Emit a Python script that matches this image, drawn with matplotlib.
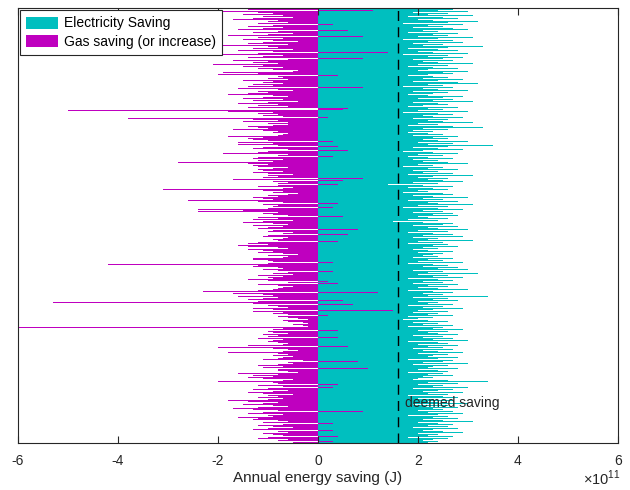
import numpy as np
import matplotlib
matplotlib.use("Agg")
import matplotlib.pyplot as plt

plt.rcParams["font.family"] = ["Liberation Sans", "DejaVu Sans"]
plt.rcParams["mathtext.fontset"] = "custom"
plt.rcParams["mathtext.rm"] = "Liberation Sans"

# Annual savings per dwelling, listed top row first, in units of 1e10 J
electricity_saving = [
    21, 27, 24, 30, 19, 26, 22, 31, 18, 25, 28, 20, 23, 32, 26, 17, 29, 22, 25, 19,
    27, 30, 21, 24, 18, 28, 23, 26, 20, 31, 24, 17, 27, 22, 29, 19, 25, 21, 33, 26,
    18, 24, 28, 20, 23, 30, 17, 26, 22, 29, 25, 19, 27, 21, 24, 31, 20, 26, 18, 23,
    28, 22,
    20, 30, 25, 27, 22, 18, 23, 26, 21, 29, 24, 19, 28, 32, 22, 25, 17, 27, 21, 24,
    30, 19, 26, 23, 18, 22, 29, 25, 20, 27, 23, 31, 19, 24, 26, 21, 18, 28, 22, 25,
    20, 30, 17, 24, 27, 21, 23, 29, 19, 26, 22, 25, 31, 20, 24, 18, 27, 33, 21, 26,
    19, 23,
    18, 22, 25, 19, 28, 23, 26, 21, 24, 30, 20, 27, 22, 35, 26, 19, 24, 29, 21, 17,
    23, 28, 20, 25, 18, 22, 27, 19, 24, 21, 26, 30, 20, 23, 17, 25, 22, 28, 19, 24,
    21, 27, 18, 31, 23, 20, 26, 22, 25, 29, 19, 24, 14, 21, 27, 18, 23, 26, 20, 22,
    17, 25,
    27, 19, 23, 30, 21, 25, 18, 28, 22, 24, 31, 20, 26, 17, 24, 29, 21, 25, 19, 27,
    23, 28, 20, 22, 26, 18, 24, 15, 21, 27, 25, 19, 28, 22, 24, 30, 20, 26, 18, 23,
    27, 21, 29, 19, 24, 22, 31, 20, 25, 18, 26, 23, 28, 21, 24, 19, 22, 27, 20, 25,
    23, 21,
    24, 19, 27, 22, 25, 20, 29, 18, 23, 26, 21, 28, 24, 30, 19, 25, 22, 32, 20, 26,
    23, 29, 18, 24, 27, 21, 25, 19, 28, 22, 26, 20, 24, 30, 18, 23, 27, 21, 25, 22,
    34, 19, 26, 23, 28, 20, 24, 22, 27, 18, 25, 21, 29, 23, 20, 26, 19, 24, 22, 27,
    18, 23,
    20, 17, 22, 26, 19, 24, 21, 27, 18, 25, 23, 29, 20, 26, 22, 24, 28, 19, 25, 21,
    27, 23, 30, 18, 24, 26, 20, 28, 22, 25, 19, 27, 21, 24, 29, 20, 26, 23, 22, 28,
    24, 18, 27, 25, 21, 30, 19, 26, 23, 22, 28, 20, 24, 26, 18, 25, 22, 27, 21, 23,
    20, 19,
    26, 34, 22, 28, 20, 25, 23, 30, 19, 27, 24, 21, 29, 22, 26, 18, 25, 28, 20, 23,
    27, 22, 24, 30, 19, 26, 21, 28, 23, 25, 20, 27, 22, 29, 24, 18, 26, 23, 28, 21,
    25, 31, 20, 24, 27, 22, 26, 19, 28, 23, 21, 25, 29, 20, 24, 22, 27, 18, 26, 23,
    21, 24, 22,
]

gas_saving = [
    -6, -14, 11, -20, -12, -9, -15, -7, -11, -5, -13, -17, -8, -10, -6, -12, 3, -9, -14, -7,
    -11, -16, 6, -8, -13, -5, -10, -18, 9, -12, -7, -15, -9, -4, -11, -14, -6, -19, -10, -8,
    -13, -5, -16, -9, 14, -12, -20, -7, -11, -14, 9, -6, -17, -10, -13, -8, -21, -11, -15, -7,
    -12, -9,
    -4, -5, -19, -12, -20, 4, -8, -7, -10, -6, -15, -9, -11, -7, -13, -9, -14, 9, -16, -8,
    -5, -12, -10, -14, -18, -9, -6, -11, -15, -7, -13, -4, -10, -16, -8, -12, -6, -14, 6, 5,
    -50, -18, -9, -12, -8, -11, -7, 2, -38, -13, -8, -15, -6, -10, -6, -9, -14, -12, -10, -17,
    -11, -8,
    -9, -6, -7, -8, -18, -11, -14, -13, -10, 3, -16, -9, -16, -8, 4, -11, -13, -6, 6, -10,
    -12, -19, -6, -8, 3, -12, -13, -7, -12, -9, -28, -14, -10, -13, -12, -6, -9, -12, -11, -7,
    -13, -10, -5, -10, -8, -11, 9, -17, 5, -9, -6, -8, 4, -8, -12, -5, -7, -31, -11, -7,
    -9, -4,
    -6, -10, -8, -13, -11, -9, -26, -12, -7, 4, -11, -8, -9, 3, -10, -24, -15, -24, -8, -11,
    -9, -6, 5, -12, -8, -13, -5, -11, -15, -9, -6, -13, -7, -10, -12, 8, -9, -10, -5, -7,
    6, -10, -11, -6, -7, -9, -8, 4, -12, -14, -10, -16, -14, -8, -6, -14, -11, -9, -12, -7,
    -4, -10,
    -6, -7, -13, -13, -10, -9, 3, -10, -42, -12, -13, -8, -7, -11, -8, 3, -6, -9, -5, -12,
    -7, -10, -9, -14, -10, 2, -6, 4, -12, -8, -5, -7, -8, -9, -12, -23, 12, -17, -11, -9,
    -16, -8, -11, -14, 5, -12, -53, -13, 7, -10, -8, -6, -13, -9, 15, -13, -7, -9, -6, 2,
    -8, -6,
    -4, -2, -7, -6, -3, -2, -5, -3, -2, -60, -7, -9, 4, -10, -9, -6, -11, -8, -10, 4,
    -12, -7, -9, -10, -8, -6, -7, -14, 6, -20, -9, -6, -4, -7, -18, -8, -6, -9, -5, -7,
    -8, -11, -3, 8, -6, -5, -8, -12, -7, -11, 10, -8, -8, -6, -4, -16, -8, -13, -9, -14,
    -11, -5,
    -7, -20, -9, -8, 4, -12, -7, 3, -10, -13, -6, -9, -14, -11, -5, -10, -8, -12, -7, -10,
    -18, -14, -8, -11, -15, -9, -6, -12, -17, -13, -8, 9, -11, -14, -7, -10, -9, -16, -12, -13,
    -8, -6, -11, 3, -7, -12, -9, -5, -10, -13, 3, -8, -6, -11, -9, -7, 4, -10, -12, -6,
    -8, 3, -5,
]

deemed_saving = 1.6  # x 1e11 J
xticks = [-6, -4, -2, 0, 2, 4, 6]

elec = np.array(electricity_saving) / 10.0
gas = np.array(gas_saving) / 10.0
n = max(len(elec), len(gas))

fig = plt.figure(figsize=(6.3, 4.9), dpi=100)
ax = fig.add_axes([18 / 630, 47 / 490, 600 / 630, 435 / 490])

cyan = "#00bfbf"
magenta = "#bf00bf"
h_e = ax.barh(n - 1 - np.arange(len(elec)), elec, height=1.0, color=cyan,
              linewidth=0, label="Electricity Saving")
h_g = ax.barh(n - 1 - np.arange(len(gas)), gas, height=1.0, color=magenta,
              linewidth=0, label="Gas saving (or increase)")

ax.axvline(deemed_saving, color="black", linewidth=1.0, dashes=(7.2, 4.5))
ax.text(deemed_saving + 0.14, 0.09 * n, "deemed saving", fontsize=10,
        va="center", ha="left", color="#262626")

ax.set_xlim(-6, 6)
ax.set_ylim(-0.5, n - 0.5)
ax.set_xticks(xticks)
ax.set_xticklabels([str(t) for t in xticks])
ax.set_yticks([])
ax.tick_params(axis="x", direction="in", top=True, bottom=True, length=5,
               width=0.8, colors="#262626", labelsize=10, pad=8)
for s in ax.spines.values():
    s.set_color("#262626")
    s.set_linewidth(0.8)

ax.set_xlabel("Annual energy saving (J)", fontsize=11, color="#262626", labelpad=2)
fig.text(0.985, 0.004, r"$\times10^{11}$", fontsize=10.5, ha="right", va="bottom",
         color="#262626")

leg = ax.legend(handles=[h_e, h_g], loc="upper left", fontsize=10,
                fancybox=False, framealpha=1, edgecolor="#262626",
                borderaxespad=0.15, handlelength=2.3, handleheight=0.95,
                handletextpad=0.4, borderpad=0.45, labelspacing=0.3)
leg.get_frame().set_linewidth(0.8)

fig.savefig("out.png", dpi=100)
